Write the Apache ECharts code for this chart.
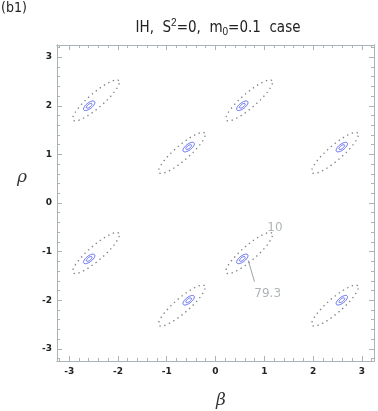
<!DOCTYPE html>
<html>
<head>
<meta charset="utf-8">
<script src="https://cdn.jsdelivr.net/npm/echarts@6/dist/echarts.min.js"></script>
<style>
  html, body { margin: 0; padding: 0; background: #fff; }
  #chart { width: 378px; height: 411px; }
</style>
</head>
<body>
<div id="chart"></div>
<script>
// outer (dotted grey) contour centres, [beta, rho]
var outerCenters = [
  [-2.45, 2.11], [0.69, 2.11], [-2.45, -1.03], [0.69, -1.03],
  [-0.69, 1.03], [2.45, 1.03], [-0.69, -2.11], [2.45, -2.11]
];
// best-fit points (blue contours), [beta, rho]
var bestFit = [
  [-2.59, 2.0], [0.55, 2.0], [-2.59, -1.15], [0.55, -1.15],
  [-0.55, 1.15], [2.59, 1.15], [-0.55, -2.0], [2.59, -2.0]
];
// contour shapes: semi axes (data units) and tilt (deg)
var outerShape = { a: 0.62, b: 0.15, tilt: 41 };
var blueShapes = [
  { a: 0.14, b: 0.06, tilt: 38 },
  { a: 0.07, b: 0.03, tilt: 38 }
];
// annotation texts and leader line
var annotations = [[1.22, -0.51, "10"], [1.07, -1.86, "79.3"]];
var leader = [[0.67, -1.18], [0.80, -1.62]];

var majorTicks = [-3, -2, -1, 0, 1, 2, 3];
var minorTicks = [];
for (var i = -16; i <= 16; i++) minorTicks.push(+(i * 0.2).toFixed(1));

var axisColor = "#a9b3b8";
var chart = echarts.init(document.getElementById("chart"));

function ellipseItem(shape, stroke, dash, width) {
  return function (params, api) {
    var cx = api.value(0), cy = api.value(1);
    var phi = shape.tilt * Math.PI / 180;
    var pts = [];
    for (var k = 0; k <= 72; k++) {
      var t = 2 * Math.PI * k / 72;
      var dx = shape.a * Math.cos(t) * Math.cos(phi) - shape.b * Math.sin(t) * Math.sin(phi);
      var dy = shape.a * Math.cos(t) * Math.sin(phi) + shape.b * Math.sin(t) * Math.cos(phi);
      pts.push(api.coord([cx + dx, cy + dy]));
    }
    return {
      type: "polyline",
      shape: { points: pts },
      style: { fill: null, stroke: stroke, lineWidth: width, lineDash: dash }
    };
  };
}

function axis(kind, pos, ticks, len, labels) {
  var a = {
    type: "value",
    position: pos,
    min: -3.25,
    max: 3.25,
    splitLine: { show: false },
    axisLine: { show: true, onZero: false, lineStyle: { color: axisColor, width: 1 } },
    axisTick: { show: true, inside: true, length: len, customValues: ticks, lineStyle: { color: axisColor } },
    axisLabel: { show: false }
  };
  if (labels) {
    a.axisLabel = {
      show: true,
      customValues: majorTicks,
      margin: kind === "x" ? 6 : 5,
      color: "#222",
      fontSize: 9,
      fontWeight: "bold",
      fontFamily: "DejaVu Sans"
    };
  }
  return a;
}

var series = [{
  type: "custom",
  xAxisIndex: 0, yAxisIndex: 0,
  renderItem: ellipseItem(outerShape, "#7d8386", [1.4, 3.6], 1.3),
  data: outerCenters,
  silent: true
}];
blueShapes.forEach(function (s) {
  series.push({
    type: "custom",
    xAxisIndex: 0, yAxisIndex: 0,
    renderItem: ellipseItem(s, "#4f5cf2", null, 1),
    data: bestFit,
    silent: true
  });
});
series.push({
  type: "line",
  data: leader,
  symbol: "none",
  lineStyle: { color: "#9aa3a6", width: 1 },
  silent: true
});
series.push({
  type: "scatter",
  data: annotations,
  symbolSize: 0,
  label: {
    show: true,
    position: "inside",
    formatter: function (p) { return p.value[2]; },
    color: "#9aa3a6",
    fontSize: 12,
    fontFamily: "DejaVu Sans"
  },
  silent: true
});

chart.setOption({
  animation: false,
  grid: { left: 57, right: 4, top: 45, bottom: 50 },
  xAxis: [
    axis("x", "bottom", majorTicks, 5, true),
    axis("x", "bottom", minorTicks, 3, false),
    axis("x", "top", majorTicks, 5, false),
    axis("x", "top", minorTicks, 3, false)
  ],
  yAxis: [
    axis("y", "left", majorTicks, 5, true),
    axis("y", "left", minorTicks, 3, false),
    axis("y", "right", majorTicks, 5, false),
    axis("y", "right", minorTicks, 3, false)
  ],
  graphic: [
    {
      type: "text", left: 1, top: 1,
      style: { text: "(b1)", fontSize: 14, fill: "#222", fontFamily: "DejaVu Sans Condensed" }
    },
    {
      type: "text", x: 218, y: 28,
      style: {
        text: "IH,  S{sup|2}=0,  m{sub|0}=0.1  case",
        fontSize: 15, fill: "#222", fontFamily: "DejaVu Sans Condensed",
        align: "center", verticalAlign: "middle",
        rich: {
          sup: { fontSize: 10, padding: [0, 0, 9, 0], fill: "#222" },
          sub: { fontSize: 10, padding: [9, 0, 0, 0], fill: "#222" }
        }
      }
    },
    {
      type: "text", x: 22, y: 178,
      style: { text: "ρ", fontSize: 17, fontStyle: "italic", fill: "#333", fontFamily: "DejaVu Serif", align: "center", verticalAlign: "middle" }
    },
    {
      type: "text", x: 221, y: 401,
      style: { text: "β", fontSize: 17, fontStyle: "italic", fill: "#333", fontFamily: "DejaVu Serif", align: "center", verticalAlign: "middle" }
    }
  ],
  series: series
});
</script>
</body>
</html>
